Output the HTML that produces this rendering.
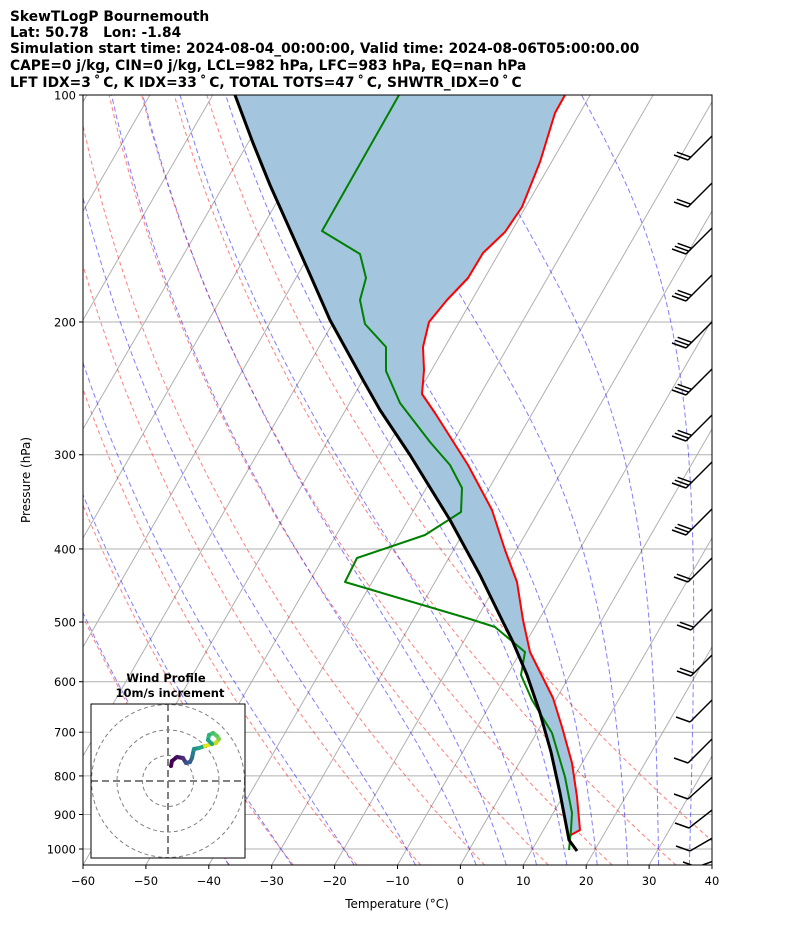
<!DOCTYPE html>
<html><head><meta charset="utf-8"><style>
body{margin:0;background:#fff;}
svg{display:block;font-family:"DejaVu Sans","Liberation Sans",sans-serif;}
text{white-space:pre;}
</style></head><body>
<svg id="s" width="794" height="937" viewBox="0 0 794 937" xmlns="http://www.w3.org/2000/svg">
<defs><clipPath id="c"><rect x="83" y="95" width="629" height="770"/></clipPath>
<clipPath id="h"><rect x="91" y="704" width="154" height="154"/></clipPath></defs>
<g font-weight="bold" font-size="13.8" fill="#000">
<text x="10" y="21">SkewTLogP Bournemouth</text>
<text x="10" y="37">Lat: 50.78   Lon: -1.84</text>
<text x="10" y="53">Simulation start time: 2024-08-04_00:00:00, Valid time: 2024-08-06T05:00:00.00</text>
<text x="10" y="70">CAPE=0 j/kg, CIN=0 j/kg, LCL=982 hPa, LFC=983 hPa, EQ=nan hPa</text>
<text x="10" y="87" id="t5">LFT</text>
</g>
<g id="bg" clip-path="url(#c)"></g>
<g id="fg" clip-path="url(#c)"></g>
<rect x="83" y="95" width="629" height="770" fill="none" stroke="#000" stroke-width="1"/>
<g id="ax" font-size="11.5" fill="#000"></g>
<text x="397" y="908" font-size="12" text-anchor="middle">Temperature (°C)</text>
<text transform="translate(30,480) rotate(-90)" font-size="12" text-anchor="middle">Pressure (hPa)</text>
<g id="hodo"></g>
</svg>
<script>
var NS="http://www.w3.org/2000/svg";
function el(p,t,a){var e=document.createElementNS(NS,t);for(var k in a)e.setAttribute(k,a[k]);p.appendChild(e);return e;}
document.getElementById('t5').textContent="LFT IDX=3\u2009\u02da\u2009C, K IDX=33\u2009\u02da\u2009C, TOTAL TOTS=47\u2009\u02da\u2009C, SHWTR_IDX=0\u2009\u02da\u2009C";
function Y(p){return 95+754*Math.log10(p/100);}
function X(T,p){return 83+(T+60)*6.29+(865-Y(p))*0.577;}
var bg=document.getElementById('bg'),fg=document.getElementById('fg'),ax=document.getElementById('ax');
function poly(g,pts,st){return el(g,'polyline',Object.assign({points:pts.map(function(q){return q[0].toFixed(1)+','+q[1].toFixed(1)}).join(' '),fill:'none'},st));}
for(var T=-200;T<=50;T+=10){poly(bg,[[X(T,1050),Y(1050)],[X(T,100),Y(100)]],{stroke:'#b0b0b0','stroke-width':1});}
for(var p=100;p<=1000;p+=100){poly(bg,[[83,Y(p)],[712,Y(p)]],{stroke:'#b0b0b0','stroke-width':1});}
for(var t0=-40;t0<=40;t0+=10){var pts=[];for(var p=1050;p>=100;p-=10){var T=(t0+273.15)*Math.pow(p/1000,0.2857)-273.15;pts.push([X(T,p),Y(p)]);}
poly(bg,pts,{stroke:'rgba(255,0,0,0.5)','stroke-width':1,'stroke-dasharray':'4,3'});}
function es(Tc){return 6.112*Math.exp(17.67*Tc/(Tc+243.5));}
function dTdp(Tk,p){var rs=0.622*es(Tk-273.15)/(p-es(Tk-273.15));var Rd=287,Lv=2.501e6,Cp=1005;
return (Rd*Tk+Lv*rs)/(p*(Cp+Lv*Lv*rs*0.622/(Rd*Tk*Tk)));}
function moist(Tc,p0,p1){var pts=[],T=Tc+273.15,p=p0,dp=(p1<p0?-2:2);pts.push([X(T-273.15,p),Y(p)]);
while((dp<0&&p>p1)||(dp>0&&p<p1)){T+=dTdp(T,p)*dp;p+=dp;pts.push([X(T-273.15,p),Y(p)]);}return pts;}
[-40,-30,-20,-10,0,5,10,15,20,25,30,35,40].forEach(function(t0){var up=moist(t0,1000,100),dn=moist(t0,1000,1050);
poly(bg,dn.reverse().concat(up),{stroke:'rgba(0,0,255,0.5)','stroke-width':1,'stroke-dasharray':'5,3'});});
var red=[[565,95],[555,113],[540,162],[522,207],[505,232],[483,253],[468,278],[447,300],[429,322],[423,347],[424,370],[422,394],[435,413],[468,465],[492,510],[505,550],[517,582],[523,620],[530,652],[553,698],[562,727],[572,763],[577,797],[580,830],[569,836]];
var grn=[[399,95],[322,231],[360,254],[366,278],[360,300],[365,324],[386,347],[386,371],[400,403],[430,442],[450,465],[462,488],[461,512],[425,535],[357,558],[345,582],[470,619],[495,627],[525,652],[521,675],[532,700],[552,733],[565,777],[572,813],[571,830],[569,850]];
var blk=[[235,95],[253,143],[270,185],[287,223],[308,270],[330,320],[363,380],[380,410],[410,455],[450,520],[480,575],[502,620],[512,640],[527,675],[540,713],[551,752],[560,793],[569,840],[577,851]];
var fill=blk.slice(0,blk.length-1).concat(red.slice().reverse());
el(fg,'polygon',{points:fill.map(function(q){return q.join(',')}).join(' '),fill:'#a3c6de'});
poly(fg,red,{stroke:'#ff0000','stroke-width':2,'stroke-linejoin':'round'});
poly(fg,grn,{stroke:'#008000','stroke-width':2,'stroke-linejoin':'round'});
poly(fg,blk,{stroke:'#000','stroke-width':3,'stroke-linejoin':'round'});
var barbs=[[688,160,45,2],[688,207,45,2],[686,254,45,3],[686,301,45,3],[686,348,45,3],[686,395,45,3],[686,441,45,3],[686,488,45,3],[686,535,45,3],[688,582,45,2],[691,630,45,2],[691,676,45,2],[690,722,45,1],[688,763,45,1],[688,799,48,1],[689,828,52,1],[690,851,60,1],[697,867,70,1]];
barbs.forEach(function(b){var a=b[2]*Math.PI/180,L=45,dx=Math.sin(a),dy=-Math.cos(a);
el(fg,'line',{x1:b[0],y1:b[1],x2:b[0]+dx*L,y2:b[1]+dy*L,stroke:'#000','stroke-width':1.5});
for(var i=0;i<b[3];i++){var bx=b[0]+dx*i*4,by=b[1]+dy*i*4;
el(fg,'line',{x1:bx,y1:by,x2:bx-14,y2:by-5,stroke:'#000','stroke-width':1.5});}});
[100,200,300,400,500,600,700,800,900,1000].forEach(function(p){var y=Y(p);
el(ax,'line',{x1:79,y1:y,x2:83,y2:y,stroke:'#000'});var t=el(ax,'text',{x:76,y:y+4.5,'text-anchor':'end'});t.textContent=p;});
for(var T=-60;T<=40;T+=10){var x=83+(T+60)*6.29;el(ax,'line',{x1:x,y1:865,x2:x,y2:869,stroke:'#000'});
var t=el(ax,'text',{x:x,y:885,'text-anchor':'middle'});t.textContent=(T<0?'\u2212'+(-T):T);}
var h=document.getElementById('hodo');
el(h,'rect',{x:91,y:704,width:154,height:154,fill:'#fff',stroke:'none'});
var hg=el(h,'g',{'clip-path':'url(#h)'});
[25.5,51,76.5].forEach(function(r){el(hg,'circle',{cx:168,cy:781,r:r,fill:'none',stroke:'#808080','stroke-width':1,'stroke-dasharray':'4,3'});});
el(hg,'line',{x1:91,y1:781,x2:245,y2:781,stroke:'#808080','stroke-width':2,'stroke-dasharray':'7,4'});
el(hg,'line',{x1:168,y1:704,x2:168,y2:858,stroke:'#808080','stroke-width':2,'stroke-dasharray':'7,4'});
var hp=[[171,766],[172,761],[177,757],[183,758],[186,763],[190,762],[192,758],[193,753],[194,749],[199,748],[205,746],[212,744],[216,743],[219,739],[217,736],[213,733],[209,735],[208,740],[212,744]];
var cols=['#440154','#440154','#471365','#46327e','#3b528b','#355f8d','#2c728e','#277f8e','#21918c','#22a884','#e3e418','#d8e219','#bddf26','#7ad151','#5ec962','#44bf70','#2fb47c','#21a585','#1f9a8a'];
for(var i=0;i<hp.length-1;i++){el(hg,'line',{x1:hp[i][0],y1:hp[i][1],x2:hp[i+1][0],y2:hp[i+1][1],stroke:cols[i],'stroke-width':4,'stroke-linecap':'round'});}
el(h,'rect',{x:91,y:704,width:154,height:154,fill:'none',stroke:'#000','stroke-width':1});
var t1=el(h,'text',{x:166,y:682,'text-anchor':'middle','font-size':11.5,'font-weight':'bold'});t1.textContent='Wind Profile';
var t2=el(h,'text',{x:170,y:697,'text-anchor':'middle','font-size':11.5,'font-weight':'bold'});t2.textContent='10m/s increment';
</script>
</body></html>
